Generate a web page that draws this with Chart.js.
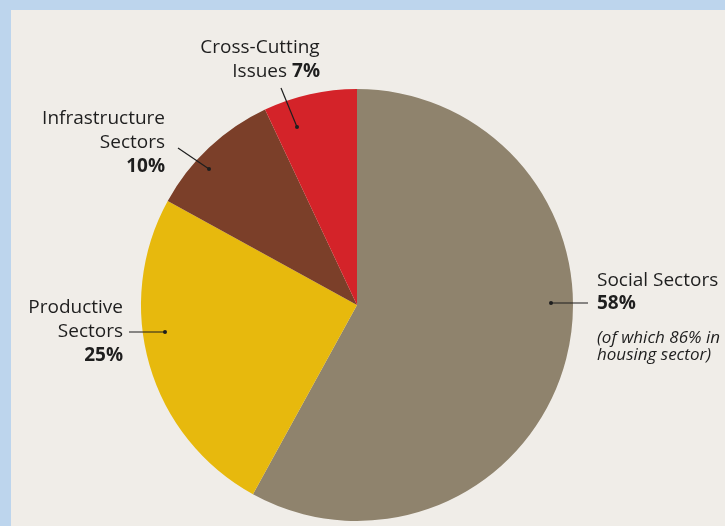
<!DOCTYPE html>
<html>
<head>
<meta charset="utf-8">
<script src="https://cdn.jsdelivr.net/npm/chart.js@4"></script>
<style>
  html, body { margin: 0; padding: 0; }
  body { width: 725px; height: 526px; background: #bdd5ed; position: relative; overflow: hidden; }
  #panel { position: absolute; left: 11px; top: 10px; right: 0; bottom: 0; background: #f0ede8; }
  #wrap { position: absolute; left: 0; top: 0; width: 725px; height: 526px; }
</style>
</head>
<body>
<div id="panel"></div>
<div id="wrap"><canvas id="pie"></canvas></div>
<script>
// data
var sectors = ["Social Sectors", "Productive Sectors", "Infrastructure Sectors", "Cross-Cutting Issues"];
var shares = [58, 25, 10, 7];
var colours = ["#8f836d", "#e7b90d", "#7b3f29", "#d42329"];

// label text + where it goes (line start -> dot end)
var labelSpecs = [
  { lines: [["Social Sectors", "normal"], ["58%", "bold"], ["(of which 86% in", "italic"], ["housing sector)", "italic"]],
    x: 597, y: 281, align: "left", lineH: [0, 23, 34, 17], line: [588, 303, 551, 303] },
  { lines: [["Productive", "normal"], ["Sectors", "normal"], ["25%", "bold"]],
    x: 123, y: 308, align: "right", lineH: [0, 24, 24], line: [129, 332, 165, 332] },
  { lines: [["Infrastructure", "normal"], ["Sectors", "normal"], ["10%", "bold"]],
    x: 165, y: 119, align: "right", lineH: [0, 24, 24], line: [178, 148, 209, 169] },
  { lines: [["Cross-Cutting", "normal"], ["Issues 7%", "mixed"]],
    x: 260, y: 48, align: "center", lineH: [0, 24], line: [281, 88, 297, 127] }
];

var FONT = "'Open Sans', Lato, sans-serif";
var SIZE = 19;

var labelPlugin = {
  id: "sectorLabels",
  afterDraw: function(chart) {
    var ctx = chart.ctx;
    ctx.save();
    ctx.fillStyle = "#1e1e1e";
    ctx.textBaseline = "middle";
    labelSpecs.forEach(function(s) {
      var y = s.y;
      for (var i = 0; i < s.lines.length; i++) {
        y += s.lineH[i];
        var txt = s.lines[i][0], st = s.lines[i][1];
        if (st == "mixed") {
          // "Issues " normal + "7%" bold, right edge at 320
          ctx.font = SIZE + "px " + FONT;
          var a = "Issues ";
          var wa = ctx.measureText(a).width;
          ctx.font = "bold " + SIZE + "px " + FONT;
          var wb = ctx.measureText("7%").width;
          var x0 = 320 - wa - wb;
          ctx.textAlign = "left";
          ctx.font = SIZE + "px " + FONT;
          ctx.fillText(a, x0, y);
          ctx.font = "bold " + SIZE + "px " + FONT;
          ctx.fillText("7%", x0 + wa, y);
          continue;
        }
        ctx.textAlign = s.align;
        if (st == "bold") ctx.font = "bold " + SIZE + "px " + FONT;
        else if (st == "italic") ctx.font = "italic 17px " + FONT;
        else ctx.font = SIZE + "px " + FONT;
        ctx.fillText(txt, s.x, y);
      }
      // leader line with a dot at the slice end
      var l = s.line;
      ctx.strokeStyle = "#1e1e1e";
      ctx.lineWidth = 1.2;
      ctx.beginPath();
      ctx.moveTo(l[0], l[1]);
      ctx.lineTo(l[2], l[3]);
      ctx.stroke();
      ctx.beginPath();
      ctx.arc(l[2], l[3], 2, 0, Math.PI * 2);
      ctx.fillStyle = "#1e1e1e";
      ctx.fill();
    });
    ctx.restore();
  }
};

var myChart = new Chart(document.getElementById("pie"), {
  type: "pie",
  data: {
    labels: sectors,
    datasets: [{
      data: shares,
      backgroundColor: colours,
      borderWidth: 0
    }]
  },
  options: {
    responsive: true,
    maintainAspectRatio: false,
    animation: false,
    layout: { padding: { left: 141, top: 89, right: 152, bottom: 5 } },
    plugins: {
      legend: { display: false },
      tooltip: { enabled: false }
    }
  },
  plugins: [labelPlugin]
});
</script>
</body>
</html>
